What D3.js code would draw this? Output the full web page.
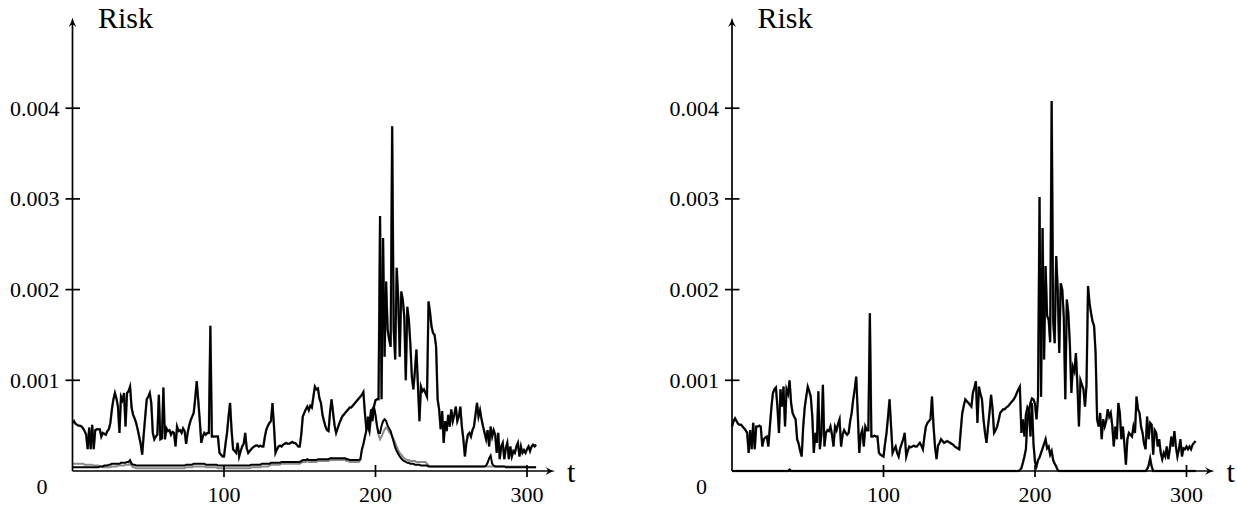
<!DOCTYPE html>
<html><head><meta charset="utf-8">
<script src="https://cdn.jsdelivr.net/npm/d3@7"></script>
<style>body{margin:0;background:#fff} svg{display:block}</style>
</head><body><svg id="c" width="1237" height="505"></svg>
<script>
// values are in units of 0.001
const UNIT = 0.001;
const xTicks = [100, 200, 300];
const yTicks = [0.001, 0.002, 0.003, 0.004];
const yTickLabels = ["0.001", "0.002", "0.003", "0.004"];
const yAxisLabel = "Risk", xAxisLabel = "t", originLabel = "0";

const leftTop = [
0.53,0.55,0.52,0.51,0.50,0.50,0.49,0.47,0.44,0.40,
0.24,0.48,0.24,0.51,0.24,0.45,0.46,0.46,0.46,0.38,
0.42,0.41,0.40,0.44,0.46,0.53,0.68,0.79,0.86,0.80,
0.71,0.42,0.82,0.78,0.86,0.49,0.86,0.88,0.93,0.70,
0.62,0.58,0.53,0.46,0.38,0.30,0.18,0.40,0.60,0.79,
0.82,0.86,0.75,0.42,0.35,0.38,0.40,0.84,0.35,0.36,
0.92,0.35,0.47,0.44,0.45,0.40,0.43,0.42,0.27,0.49,
0.44,0.45,0.42,0.47,0.44,0.30,0.42,0.50,0.56,0.60,
0.64,0.80,0.99,0.78,0.56,0.31,0.38,0.42,0.40,0.42,
0.42,1.60,0.38,0.38,0.38,0.38,0.38,0.20,0.18,0.16,
0.16,0.30,0.42,0.60,0.75,0.45,0.24,0.22,0.20,0.31,
0.16,0.22,0.27,0.30,0.42,0.25,0.20,0.22,0.24,0.26,
0.27,0.28,0.28,0.27,0.28,0.27,0.27,0.38,0.46,0.50,
0.53,0.55,0.75,0.49,0.20,0.24,0.27,0.28,0.27,0.29,
0.30,0.31,0.30,0.30,0.31,0.32,0.31,0.31,0.29,0.27,
0.27,0.40,0.60,0.64,0.68,0.71,0.67,0.72,0.70,0.82,
0.93,0.90,0.91,0.80,0.75,0.62,0.55,0.49,0.45,0.44,
0.65,0.79,0.64,0.50,0.42,0.47,0.52,0.56,0.60,0.62,
0.64,0.66,0.68,0.70,0.70,0.72,0.74,0.76,0.78,0.80,
0.82,0.84,0.87,0.64,0.46,0.50,0.44,0.60,0.68,0.71,
0.78,0.79,0.79,2.81,0.79,2.57,1.26,2.09,1.56,1.45,
1.37,3.80,1.56,1.23,2.24,1.90,1.26,1.98,1.89,1.70,
1.00,1.81,1.67,1.40,1.04,0.90,1.10,1.34,0.95,0.55,
0.93,0.88,0.90,0.86,0.82,1.87,1.75,1.59,1.52,1.50,
1.37,0.79,0.68,0.46,0.66,0.31,0.55,0.44,0.62,0.49,
0.68,0.55,0.62,0.71,0.55,0.60,0.71,0.49,0.35,0.16,
0.31,0.40,0.42,0.38,0.45,0.49,0.62,0.75,0.60,0.67,
0.57,0.49,0.42,0.35,0.45,0.27,0.49,0.38,0.45,0.40,
0.20,0.42,0.13,0.27,0.31,0.13,0.25,0.31,0.13,0.27,
0.16,0.22,0.20,0.27,0.31,0.16,0.27,0.20,0.23,0.20,
0.24,0.27,0.22,0.27,0.29,0.27,0.29
];

const leftBottom = [
0.04,0.04,0.04,0.04,0.04,0.04,0.04,0.04,0.04,0.04,
0.04,0.04,0.04,0.04,0.04,0.04,0.04,0.04,0.05,0.05,
0.05,0.06,0.06,0.06,0.07,0.07,0.08,0.08,0.08,0.08,
0.08,0.08,0.09,0.09,0.09,0.09,0.10,0.10,0.12,0.08,
0.07,0.07,0.06,0.06,0.06,0.06,0.06,0.06,0.06,0.06,
0.06,0.06,0.06,0.06,0.06,0.06,0.06,0.06,0.06,0.06,
0.06,0.06,0.06,0.06,0.06,0.06,0.06,0.06,0.06,0.06,
0.06,0.06,0.06,0.06,0.06,0.07,0.07,0.07,0.07,0.07,
0.08,0.08,0.08,0.08,0.08,0.08,0.08,0.08,0.07,0.07,
0.07,0.07,0.07,0.07,0.07,0.07,0.06,0.06,0.06,0.06,
0.06,0.06,0.06,0.06,0.06,0.06,0.06,0.06,0.06,0.06,
0.06,0.06,0.06,0.06,0.06,0.06,0.06,0.06,0.07,0.07,
0.07,0.07,0.07,0.07,0.07,0.08,0.08,0.08,0.08,0.08,
0.08,0.09,0.09,0.09,0.09,0.09,0.09,0.09,0.10,0.10,
0.10,0.10,0.10,0.10,0.10,0.10,0.10,0.10,0.10,0.10,
0.10,0.11,0.12,0.12,0.12,0.13,0.12,0.12,0.12,0.12,
0.12,0.12,0.13,0.13,0.13,0.13,0.13,0.13,0.13,0.13,
0.14,0.14,0.14,0.14,0.14,0.14,0.14,0.14,0.14,0.14,
0.14,0.13,0.13,0.12,0.12,0.12,0.12,0.12,0.12,0.12,
0.13,0.24,0.30,0.38,0.45,0.60,0.50,0.68,0.55,0.71,
0.62,0.50,0.42,0.42,0.50,0.55,0.57,0.55,0.50,0.47,
0.44,0.38,0.32,0.26,0.22,0.19,0.16,0.14,0.12,0.11,
0.10,0.09,0.09,0.08,0.08,0.08,0.07,0.07,0.07,0.07,
0.06,0.06,0.06,0.06,0.06,0.05,0.05,0.05,0.05,0.05,
0.05,0.05,0.05,0.05,0.05,0.05,0.05,0.05,0.05,0.05,
0.05,0.05,0.05,0.05,0.05,0.05,0.05,0.05,0.05,0.05,
0.05,0.05,0.05,0.05,0.05,0.05,0.05,0.05,0.05,0.05,
0.05,0.05,0.05,0.06,0.09,0.14,0.17,0.08,0.06,0.05,
0.05,0.05,0.05,0.05,0.05,0.05,0.04,0.04,0.04,0.04,
0.04,0.04,0.04,0.04,0.04,0.04,0.04,0.04,0.04,0.04,
0.04,0.04,0.04,0.04,0.04,0.04,0.04
];

const leftBottomGray = [
0.08,0.08,0.08,0.08,0.08,0.08,0.08,0.08,0.07,0.07,
0.07,0.07,0.07,0.07,0.06,0.06,0.06,0.06,0.05,0.05,
0.04,0.04,0.04,0.04,0.04,0.04,0.05,0.05,0.05,0.05,
0.06,0.06,0.06,0.06,0.06,0.07,0.07,0.07,0.08,0.06,
0.04,0.04,0.03,0.03,0.03,0.03,0.03,0.03,0.03,0.03,
0.03,0.03,0.03,0.03,0.03,0.03,0.03,0.03,0.03,0.03,
0.03,0.03,0.03,0.03,0.03,0.03,0.03,0.03,0.03,0.03,
0.03,0.03,0.03,0.03,0.03,0.04,0.04,0.04,0.04,0.04,
0.05,0.05,0.05,0.05,0.05,0.05,0.05,0.05,0.04,0.04,
0.04,0.04,0.04,0.04,0.04,0.04,0.03,0.03,0.03,0.03,
0.03,0.03,0.03,0.03,0.03,0.03,0.03,0.03,0.03,0.03,
0.03,0.03,0.03,0.03,0.03,0.03,0.03,0.03,0.04,0.04,
0.04,0.04,0.04,0.04,0.04,0.05,0.05,0.05,0.05,0.05,
0.06,0.07,0.07,0.07,0.07,0.07,0.07,0.07,0.08,0.08,
0.08,0.08,0.08,0.08,0.08,0.08,0.08,0.08,0.08,0.08,
0.08,0.09,0.10,0.10,0.10,0.11,0.10,0.10,0.10,0.10,
0.10,0.10,0.11,0.11,0.11,0.11,0.11,0.11,0.11,0.11,
0.12,0.12,0.12,0.12,0.12,0.12,0.12,0.12,0.12,0.12,
0.12,0.11,0.11,0.10,0.10,0.10,0.10,0.10,0.10,0.10,
0.12,0.22,0.28,0.36,0.44,0.58,0.50,0.65,0.55,0.68,
0.60,0.48,0.40,0.35,0.38,0.42,0.46,0.48,0.46,0.43,
0.41,0.38,0.35,0.31,0.27,0.23,0.20,0.18,0.16,0.14,
0.13,0.12,0.12,0.11,0.11,0.11,0.11,0.10,0.10,0.10,
0.10,0.10,0.10,0.10,0.08,0.06,0.05,0.05,0.05,0.05,
0.05,0.05,0.05,0.05,0.05,0.05,0.05,0.05,0.05,0.05,
0.05,0.05,0.05,0.05,0.05,0.05,0.05,0.05,0.05,0.05,
0.05,0.05,0.05,0.05,0.05,0.05,0.05,0.05,0.05,0.05,
0.05,0.05,0.05,0.05,0.05,0.05,0.05,0.05,0.05,0.05,
0.05,0.05,0.05,0.05,0.05,0.05,0.05,0.05,0.05,0.05,
0.05,0.05,0.05,0.05,0.05,0.05,0.05,0.05,0.05,0.05,
0.04,0.04,0.04,0.04,0.04,0.04,0.04
];

const rightTop = [
0.49,0.55,0.58,0.55,0.52,0.51,0.51,0.49,0.47,0.45,
0.42,0.20,0.45,0.24,0.53,0.24,0.49,0.49,0.50,0.49,
0.27,0.35,0.37,0.38,0.27,0.49,0.70,0.86,0.90,0.92,
0.70,0.42,0.90,0.71,0.93,0.49,0.90,0.85,1.00,0.75,
0.64,0.60,0.57,0.35,0.30,0.22,0.16,0.49,0.70,0.82,
0.93,0.88,0.82,0.60,0.20,0.42,0.31,0.88,0.24,0.40,
0.95,0.27,0.42,0.45,0.44,0.49,0.40,0.27,0.49,0.45,
0.52,0.57,0.27,0.40,0.45,0.42,0.40,0.42,0.55,0.64,
0.79,0.90,1.04,0.64,0.20,0.40,0.45,0.27,0.49,0.45,
0.45,1.74,0.38,0.38,0.39,0.38,0.38,0.20,0.18,0.17,
0.16,0.30,0.42,0.60,0.79,0.49,0.20,0.24,0.27,0.20,
0.16,0.25,0.30,0.35,0.42,0.16,0.22,0.27,0.26,0.27,
0.28,0.27,0.27,0.29,0.31,0.28,0.24,0.38,0.49,0.53,
0.55,0.57,0.82,0.50,0.27,0.13,0.28,0.31,0.35,0.33,
0.31,0.32,0.33,0.32,0.31,0.30,0.29,0.27,0.26,0.25,
0.24,0.45,0.64,0.72,0.79,0.77,0.75,0.73,0.71,0.86,
0.92,0.99,0.53,0.93,0.85,0.79,0.57,0.42,0.31,0.49,
0.65,0.84,0.68,0.42,0.45,0.49,0.56,0.64,0.66,0.68,
0.68,0.70,0.71,0.73,0.75,0.77,0.79,0.82,0.86,0.90,
0.93,0.42,0.57,0.38,0.62,0.70,0.66,0.75,0.80,0.79,
0.74,0.57,0.82,3.02,0.82,2.68,1.23,2.26,1.71,1.67,
1.42,4.08,1.65,1.41,2.37,2.00,1.30,2.07,2.00,1.70,
0.79,1.89,1.74,1.40,0.86,1.15,1.10,1.30,0.95,0.49,
1.00,0.95,0.90,0.71,0.95,2.04,1.85,1.74,1.65,1.60,
1.30,0.57,0.49,0.64,0.35,0.57,0.49,0.55,0.68,0.60,
0.64,0.50,0.27,0.49,0.35,0.75,0.64,0.35,0.49,0.30,
0.07,0.35,0.42,0.40,0.38,0.49,0.42,0.82,0.68,0.64,
0.49,0.42,0.30,0.24,0.60,0.35,0.53,0.51,0.18,0.45,
0.42,0.27,0.35,0.20,0.13,0.20,0.16,0.27,0.13,0.24,
0.38,0.27,0.44,0.27,0.16,0.24,0.35,0.16,0.25,0.24,
0.27,0.24,0.27,0.24,0.29,0.31,0.33
];

const rightBottom = [
0,0,0,0,0,0,0,0,0,0, 0,0,0,0,0,0,0,0,0,0, 0,0,0,0,0,0,0,0,0,0,
0,0,0,0,0,0,0,0,0.015,0,
0,0,0,0,0,0,0,0,0,0, 0,0,0,0,0,0,0,0,0,0, 0,0,0,0,0,0,0,0,0,0,
0,0,0,0,0,0,0,0,0,0, 0,0,0,0,0,0,0,0,0,0, 0,0,0,0,0,0,0,0,0,0,
0,0,0,0,0,0,0,0,0,0, 0,0,0,0,0,0,0,0,0,0, 0,0,0,0,0,0,0,0,0,0,
0,0,0,0,0,0,0,0,0,0, 0,0,0,0,0,0,0,0,0,0, 0,0,0,0,0,0,0,0,0,0,
0,0,0,0,0,0,0,0,0,0, 0,0,0,0,0,0,0,0,0,0, 0,0,0,0,0,0,0,0,0,0,
0.01,0.03,0.09,0.16,0.24,0.57,0.68,0.38,0.75,0.30,
0.10,0.05,0.12,0.15,0.20,0.25,0.30,0.35,0.25,0.27,
0.18,0.22,0.12,0.08,0.05,0.01,0,0,0,0,
0,0,0,0,0,0,0,0,0,0, 0,0,0,0,0,0,0,0,0,0, 0,0,0,0,0,0,0,0,0,0,
0,0,0,0,0,0,0,0,0,0, 0,0,0,0,0,0,0,0,0,0,
0,0,0,0,0.02,0.06,0.14,0.05,0,0,
0,0,0,0,0,0,0,0,0,0, 0,0,0,0,0,0,0,0,0,0,
0,0,0,0,0,0,0
];

const svg = d3.select("#c");
const FONT = "'Liberation Serif','Times New Roman',serif";

const panels = [
  { x0: 72.5, lines: [
      { data: leftTop, color: "#8a8a8a", w: 2.5 },
      { data: leftBottomGray, color: "#8a8a8a", w: 2.0 },
      { data: leftTop, color: "#000", w: 2.0 },
      { data: leftBottom, color: "#000", w: 2.0 } ] },
  { x0: 732, lines: [
      { data: rightTop, color: "#8a8a8a", w: 2.5 },
      { data: rightBottom, color: "#8a8a8a", w: 2.5 },
      { data: rightTop, color: "#000", w: 2.0 },
      { data: rightBottom, color: "#000", w: 2.0 } ] }
];

const arrowPath = "M0,0 Q0.8,5 4,9.5 Q1.2,7.2 0,6.8 Q-1.2,7.2 -4,9.5 Q-0.8,5 0,0 Z";

panels.forEach(p => {
  const x = d3.scaleLinear().domain([0, 300]).range([p.x0, p.x0 + 454.5]);
  const y = d3.scaleLinear().domain([0, 0.005]).range([471, 17.5]);
  const g = svg.append("g");
  const xEnd = 318.5;

  // data lines
  const line = d3.line().x((d, i) => x(i)).y(d => y(d * UNIT));
  p.lines.forEach(l => {
    g.append("path").datum(l.data).attr("d", line)
      .attr("fill", "none").attr("stroke", l.color)
      .attr("stroke-width", l.w).attr("stroke-linejoin", "miter").attr("stroke-miterlimit", 6);
  });

  // axes
  g.append("line").attr("x1", x(0)).attr("x2", x(0)).attr("y1", y(0)).attr("y2", y(0.005) + 3)
    .attr("stroke", "#000").attr("stroke-width", 1.7);
  g.append("line").attr("x1", x(0)).attr("x2", x(xEnd) - 3).attr("y1", y(0)).attr("y2", y(0))
    .attr("stroke", "#000").attr("stroke-width", 1.7);
  g.append("path").attr("d", arrowPath).attr("fill", "#000")
    .attr("transform", `translate(${x(0)},${y(0.005)})`);
  g.append("path").attr("d", arrowPath).attr("fill", "#000")
    .attr("transform", `translate(${x(xEnd)},${y(0)}) rotate(90)`);

  // y ticks
  yTicks.forEach((t, i) => {
    g.append("line").attr("x1", x(0) - 7).attr("x2", x(0) + 7.5).attr("y1", y(t)).attr("y2", y(t))
      .attr("stroke", "#000").attr("stroke-width", 1.7);
    g.append("text").attr("x", x(0) - 13).attr("y", y(t) + 7.5)
      .attr("text-anchor", "end").attr("font-family", FONT).attr("font-size", 22)
      .attr("fill", "#000").text(yTickLabels[i]);
  });
  // x ticks
  xTicks.forEach(t => {
    g.append("line").attr("x1", x(t)).attr("x2", x(t)).attr("y1", y(0) - 6).attr("y2", y(0) + 6)
      .attr("stroke", "#000").attr("stroke-width", 1.7);
    g.append("text").attr("x", x(t)).attr("y", y(0) + 30.5)
      .attr("text-anchor", "middle").attr("font-family", FONT).attr("font-size", 22)
      .attr("fill", "#000").text(String(t));
  });
  g.append("text").attr("x", x(0) - 30.5).attr("y", y(0) + 23)
    .attr("text-anchor", "middle").attr("font-family", FONT).attr("font-size", 22)
    .attr("fill", "#000").text(originLabel);
  g.append("text").attr("x", x(0) + 25.5).attr("y", 28.3)
    .attr("font-family", FONT).attr("font-size", 30).attr("fill", "#000").text(yAxisLabel);
  g.append("text").attr("x", x(xEnd) + 12).attr("y", y(0) + 10.5)
    .attr("font-family", FONT).attr("font-size", 30).attr("fill", "#000").text(xAxisLabel);
});
</script>
</body></html>
